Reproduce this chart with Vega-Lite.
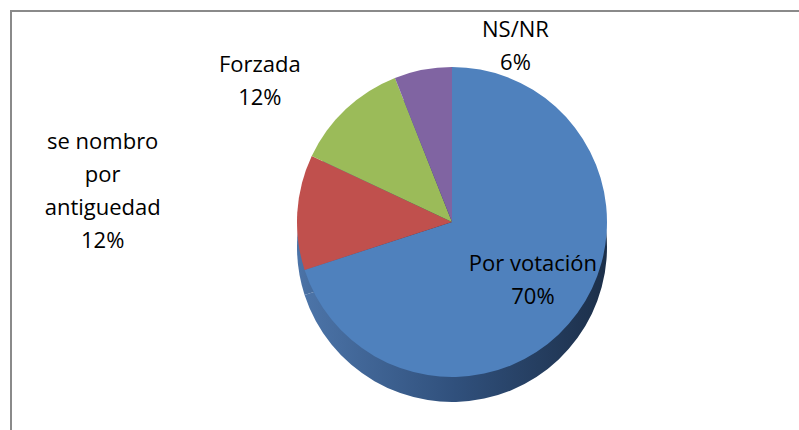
{
  "$schema": "https://vega.github.io/schema/vega-lite/v6.json",
  "width": 882,
  "height": 422,
  "autosize": {"type": "none"},
  "padding": {"left": 11, "top": 11, "right": 0, "bottom": 0},
  "background": "white",
  "config": {
    "view": {"stroke": null}
  },
  "data": {
    "values": [
      {"cat": "Por votación", "pct": 70, "label": "Por votación\n70%", "order": 1},
      {"cat": "se nombro por antiguedad", "pct": 12, "label": "se nombro\npor\nantiguedad\n12%", "order": 2},
      {"cat": "Forzada", "pct": 12, "label": "Forzada\n12%", "order": 3},
      {"cat": "NS/NR", "pct": 6, "label": "NS/NR\n6%", "order": 4}
    ]
  },
  "layer": [
    {
      "data": {"values": [{"frame": "chart"}]},
      "mark": {"type": "rect", "filled": false, "stroke": "#8a8a8a", "strokeWidth": 2},
      "encoding": {}
    },
    {
      "mark": {
        "type": "arc",
        "radius": 155,
        "yOffset": 25,
        "fill": {
          "gradient": "linear",
          "x1": 0, "y1": 0, "x2": 1, "y2": 0,
          "stops": [
            {"offset": 0, "color": "#4c74a8"},
            {"offset": 0.5, "color": "#30507c"},
            {"offset": 1, "color": "#1c2f49"}
          ]
        }
      },
      "encoding": {
        "theta": {"field": "pct", "type": "quantitative", "stack": true},
        "order": {"field": "order", "type": "quantitative", "sort": "ascending"}
      }
    },
    {
      "mark": {"type": "arc", "radius": 155},
      "encoding": {
        "theta": {"field": "pct", "type": "quantitative", "stack": true},
        "order": {"field": "order", "type": "quantitative", "sort": "ascending"},
        "color": {
          "field": "cat",
          "type": "nominal",
          "scale": {
            "domain": ["Por votación", "se nombro por antiguedad", "Forzada", "NS/NR"],
            "range": ["#4f81bd", "#c0504d", "#9bbb59", "#8064a2"]
          },
          "legend": null
        }
      }
    },
    {
      "mark": {"type": "text", "radius": 100, "dy": -17, "font": "Open Sans", "fontSize": 22, "lineBreak": "\n", "lineHeight": 33, "color": "#000000"},
      "encoding": {
        "theta": {"field": "pct", "type": "quantitative", "stack": true},
        "order": {"field": "order", "type": "quantitative", "sort": "ascending"},
        "text": {"condition": {"test": "datum.order === 1", "field": "label"}, "value": ""}
      }
    },
    {
      "mark": {"type": "text", "radius": 350, "dy": -58, "font": "Open Sans", "fontSize": 22, "lineBreak": "\n", "lineHeight": 33, "color": "#000000"},
      "encoding": {
        "theta": {"field": "pct", "type": "quantitative", "stack": true},
        "order": {"field": "order", "type": "quantitative", "sort": "ascending"},
        "text": {"condition": {"test": "datum.order === 2", "field": "label"}, "value": ""}
      }
    },
    {
      "mark": {"type": "text", "radius": 215, "dx": -45, "font": "Open Sans", "fontSize": 22, "lineBreak": "\n", "lineHeight": 33, "color": "#000000"},
      "encoding": {
        "theta": {"field": "pct", "type": "quantitative", "stack": true},
        "order": {"field": "order", "type": "quantitative", "sort": "ascending"},
        "text": {"condition": {"test": "datum.order === 3", "field": "label"}, "value": ""}
      }
    },
    {
      "mark": {"type": "text", "radius": 195, "dx": 100, "font": "Open Sans", "fontSize": 22, "lineBreak": "\n", "lineHeight": 33, "color": "#000000"},
      "encoding": {
        "theta": {"field": "pct", "type": "quantitative", "stack": true},
        "order": {"field": "order", "type": "quantitative", "sort": "ascending"},
        "text": {"condition": {"test": "datum.order === 4", "field": "label"}, "value": ""}
      }
    }
  ]
}
